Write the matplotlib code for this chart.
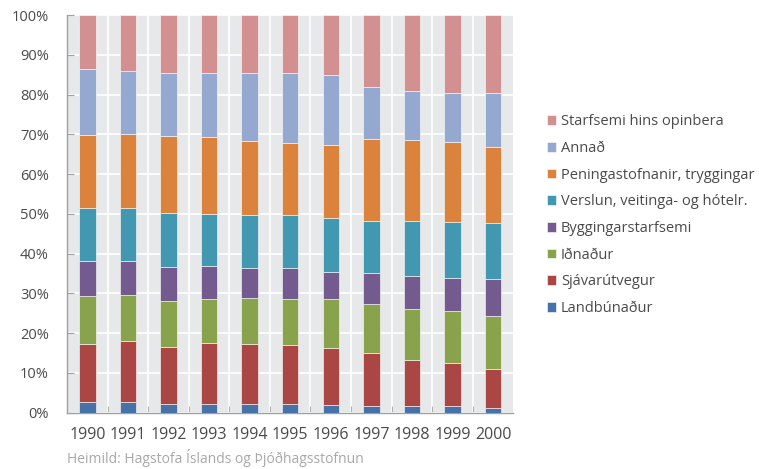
import matplotlib
matplotlib.use("Agg")
import matplotlib.pyplot as plt
import numpy as np

plt.rcParams['font.family'] = ['Open Sans', 'DejaVu Sans']

years = ["1990", "1991", "1992", "1993", "1994", "1995", "1996", "1997", "1998", "1999", "2000"]

# sector shares, % of total (bottom to top)
landbunadur = [2.6, 2.7, 2.3, 2.3, 2.3, 2.2, 2.0, 1.8, 1.8, 1.8, 1.3]
sjavarutvegur = [14.8, 15.4, 14.3, 15.3, 15.1, 14.8, 14.2, 13.1, 11.5, 10.7, 9.8]
idnadur = [11.9, 11.4, 11.5, 11.0, 11.5, 11.7, 12.3, 12.5, 12.7, 13.0, 13.3]
bygging = [8.9, 8.7, 8.6, 8.3, 7.6, 7.6, 7.0, 7.8, 8.3, 8.4, 9.1]
verslun = [13.2, 13.2, 13.6, 13.1, 13.3, 13.4, 13.5, 13.0, 13.9, 14.1, 14.1]
peningast = [18.5, 18.8, 19.4, 19.4, 18.6, 18.0, 18.3, 20.6, 20.3, 20.1, 19.3]
annad = [16.4, 15.6, 15.8, 15.9, 17.0, 17.6, 17.5, 13.2, 12.5, 12.4, 13.6]
opinbert = [13.7, 14.2, 14.5, 14.7, 14.6, 14.7, 15.2, 18.0, 19.0, 19.5, 19.5]

series = [
    ("Landbúnaður", landbunadur, "#4672a8"),
    ("Sjávarútvegur", sjavarutvegur, "#aa4744"),
    ("Iðnaður", idnadur, "#89a34c"),
    ("Byggingarstarfsemi", bygging, "#735a8f"),
    ("Verslun, veitinga- og hótelr.", verslun, "#4398b1"),
    ("Peningastofnanir, tryggingar", peningast, "#db833d"),
    ("Annað", annad, "#95a9d0"),
    ("Starfsemi hins opinbera", opinbert, "#d29190"),
]

TEXT = "#4a4a4a"

fig = plt.figure(figsize=(7.59, 4.69), dpi=100)
ax = fig.add_axes([0.0883, 0.12, 0.588, 0.848])
ax.set_facecolor("#e7e8ea")

x = np.arange(len(years))
bottom = np.zeros(len(years))
handles = []
for name, vals, col in series:
    b = ax.bar(x, vals, 0.405, bottom=bottom, color=col, edgecolor="#ffffff",
               linewidth=0.4, label=name, zorder=3)
    handles.append(b)
    bottom += np.array(vals)

ax.set_xlim(-0.5, len(years) - 0.5)
ax.set_ylim(0, 100)
ax.set_yticks(np.arange(0, 101, 10))
ax.set_yticklabels([f"{v}%" for v in range(0, 101, 10)])
ax.set_xticks(x)
ax.set_xticklabels(years)
ax.set_xticks(x[:-1] + 0.5, minor=True)

ax.grid(axis="y", color="white", linewidth=1.2, zorder=0)
ax.grid(axis="x", which="minor", color="white", linewidth=1.2, zorder=0)
ax.set_axisbelow(True)

for s in ["top", "right"]:
    ax.spines[s].set_visible(False)
for s in ["left", "bottom"]:
    ax.spines[s].set_color("#a0a0a0")
    ax.spines[s].set_linewidth(1.0)

ax.tick_params(axis="y", direction="in", length=5, color="#a0a0a0", labelsize=10.5,
               labelcolor=TEXT, pad=13)
ax.tick_params(axis="x", which="major", length=0, labelsize=11.5, labelcolor=TEXT, pad=10)
ax.tick_params(axis="x", which="minor", direction="in", length=5, color="#a0a0a0")

fig.legend(handles[::-1], [s[0] for s in series][::-1], loc="upper left",
           bbox_to_anchor=(0.711, 0.772), frameon=False, fontsize=10.5,
           labelcolor=TEXT, handlelength=0.65, handleheight=0.65,
           handletextpad=0.3, labelspacing=0.8, borderpad=0)

fig.text(0.088, 0.004, "Heimild: Hagstofa Íslands og Þjóðhagsstofnun", fontsize=10,
         color="#a8a8a8", va="bottom")

fig.savefig("out.png", dpi=100)
